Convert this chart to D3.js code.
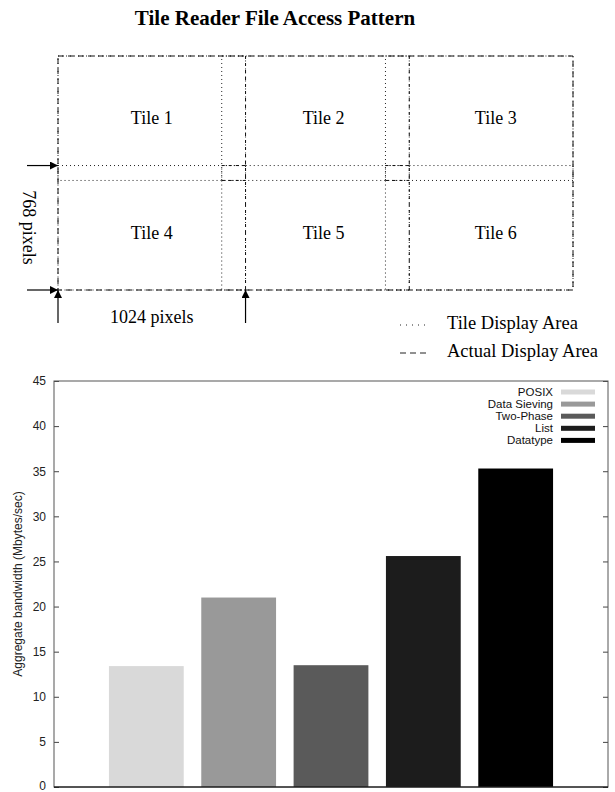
<!DOCTYPE html>
<html>
<head>
<meta charset="utf-8">
<script src="https://cdn.jsdelivr.net/npm/d3@7"></script>
<style>
body{margin:0;background:#fff}
</style>
</head>
<body>
<script>
// --- diagram data (display pixels) ---
const tileNames=[["Tile 1","Tile 2","Tile 3"],["Tile 4","Tile 5","Tile 6"]]
const tileCols=[0,894,1788]
const tileRows=[0,676]
const tileW=1024, tileH=768
const labelCols=[512,1450,2390]
const labelRows=[384,1090]
const legendTop=["Tile Display Area","Actual Display Area"]

// --- bar chart data ---
const methods=["POSIX","Data Sieving","Two-Phase","List","Datatype"]
const bandwidth=[13.4,21.0,13.5,25.6,35.3]
const shades=["#d9d9d9","#999999","#5a5a5a","#1c1c1c","#000000"]
const yTicks=[0,5,10,15,20,25,30,35,40,45]

const svg=d3.select("body")
            .append("svg")
            .attr("width",615)
            .attr("height",792)
            .style("background-color","white")

const serif="Liberation Serif, Times New Roman, serif"
const sans="Liberation Sans, Arial, sans-serif"

svg.append("text")
   .attr("x",275)
   .attr("y",25)
   .attr("text-anchor","middle")
   .attr("font-family",serif)
   .attr("font-weight","bold")
   .attr("font-size","21px")
   .text("Tile Reader File Access Pattern")

// top diagram
const totalW=tileCols[2]+tileW, totalH=tileRows[1]+tileH
const dx=d3.scaleLinear().domain([0,totalW]).range([58,573])
const dy=d3.scaleLinear().domain([0,totalH]).range([56,290])
const diag=svg.append("g")

const dotted="1,3", dashed="6,4"

// dotted tile areas
tileRows.forEach(r=>tileCols.forEach(c=>{
  diag.append("rect")
      .attr("x",dx(c)).attr("y",dy(r))
      .attr("width",dx(c+tileW)-dx(c)).attr("height",dy(r+tileH)-dy(r))
      .attr("fill","none").attr("stroke","#222").attr("stroke-width",1)
      .attr("stroke-dasharray",dotted)
}))

// dashed actual display area: outer frame and non-overlapping edges
diag.append("rect")
    .attr("x",dx(0)).attr("y",dy(0))
    .attr("width",dx(totalW)-dx(0)).attr("height",dy(totalH)-dy(0))
    .attr("fill","none").attr("stroke","#111").attr("stroke-dasharray",dashed)

const seg=(x1,y1,x2,y2)=>diag.append("line")
    .attr("x1",dx(x1)).attr("y1",dy(y1)).attr("x2",dx(x2)).attr("y2",dy(y2))
    .attr("stroke","#111").attr("stroke-dasharray","3,4")

// edges between tiles
seg(tileW,0,tileW,totalH)
seg(tileCols[1]+tileW,0,tileCols[1]+tileW,totalH)
seg(tileCols[1],tileRows[1],tileW,tileRows[1])
seg(tileCols[1],tileH,tileW,tileH)
seg(tileCols[2],tileRows[1],tileCols[1]+tileW,tileRows[1])
seg(tileCols[2],tileH,tileCols[1]+tileW,tileH)

tileNames.forEach((row,i)=>row.forEach((name,j)=>{
  diag.append("text")
      .attr("x",dx(labelCols[j])).attr("y",dy(labelRows[i])+6)
      .attr("text-anchor","middle")
      .attr("font-family",serif).attr("font-size","18px")
      .text(name)
}))

// arrows
svg.append("defs").append("marker")
   .attr("id","head").attr("viewBox","0 0 10 10")
   .attr("refX",10).attr("refY",5)
   .attr("markerWidth",14).attr("markerHeight",8)
   .attr("markerUnits","userSpaceOnUse")
   .attr("orient","auto")
   .append("path").attr("d","M0,0L10,5L0,10Z").attr("fill","black")

const arrow=(x1,y1,x2,y2)=>diag.append("line")
    .attr("x1",x1).attr("y1",y1).attr("x2",x2).attr("y2",y2)
    .attr("stroke","black").attr("stroke-width",1.2)
    .attr("marker-end","url(#head)")

arrow(27,dy(tileRows[1]),dx(0),dy(tileRows[1]))
arrow(27,dy(totalH),dx(0),dy(totalH))
arrow(dx(0),323,dx(0),dy(totalH))
arrow(dx(tileW),323,dx(tileW),dy(totalH))

diag.append("text")
    .attr("transform","translate(23,"+(dy(tileH)+47)+") rotate(90)")
    .attr("text-anchor","middle")
    .attr("font-family",serif).attr("font-size","18px")
    .text("768 pixels")

diag.append("text")
    .attr("x",(dx(0)+dx(tileW))/2).attr("y",323)
    .attr("text-anchor","middle")
    .attr("font-family",serif).attr("font-size","18px")
    .text("1024 pixels")

legendTop.forEach((t,i)=>{
  const y=325+i*28
  diag.append("line")
      .attr("x1",400).attr("x2",430).attr("y1",y).attr("y2",y)
      .attr("stroke","#222")
      .attr("stroke-dasharray",i==0?"1,5":"6,4")
  diag.append("text")
      .attr("x",447).attr("y",y+4)
      .attr("font-family",serif).attr("font-size","18.5px")
      .text(t)
})

// bar chart
const pL=54,pR=608,pT=381,pB=787
const xs=d3.scaleLinear().domain([0,methods.length+1]).range([pL,pR])
const ys=d3.scaleLinear().domain([0,45]).range([pB,pT])
const chart=svg.append("g")

chart.selectAll(".bar")
     .data(methods)
     .enter()
     .append("rect")
     .attr("x",(d,i)=>xs(i+1-0.405))
     .attr("width",xs(0.81)-xs(0))
     .attr("y",(d,i)=>ys(bandwidth[i]))
     .attr("height",(d,i)=>ys(0)-ys(bandwidth[i]))
     .attr("fill",(d,i)=>shades[i])

const yl=chart.append("g")
  .attr("transform","translate("+pL+",0)")
  .call(d3.axisLeft(ys).tickValues(yTicks).tickSize(-5).tickPadding(8))
const yr=chart.append("g")
  .attr("transform","translate("+pR+",0)")
  .call(d3.axisRight(ys).tickValues(yTicks).tickSize(-5).tickFormat(""))
;[yl,yr].forEach(g=>{
  g.select(".domain").remove()
  g.selectAll("line").attr("stroke","#444")
  g.selectAll("text").attr("font-family",sans).attr("font-size","12px").attr("fill","#222")
})
// keep the 0 label inside the picture
yl.selectAll("text").filter(d=>d==0).attr("dy","0.2em")

chart.append("rect")
     .attr("x",pL).attr("y",pT)
     .attr("width",pR-pL).attr("height",pB-pT)
     .attr("fill","none").attr("stroke","#555").attr("stroke-width",1)
chart.append("line")
     .attr("x1",pL).attr("x2",pR).attr("y1",pB).attr("y2",pB)
     .attr("stroke","black")

chart.append("text")
     .attr("transform","translate(22,"+((pT+pB)/2)+") rotate(-90)")
     .attr("text-anchor","middle")
     .attr("font-family",sans).attr("font-size","12px").attr("fill","#222")
     .text("Aggregate bandwidth (Mbytes/sec)")

methods.forEach((m,i)=>{
  const y=392+i*12.1
  chart.append("text")
       .attr("x",553).attr("y",y+4)
       .attr("text-anchor","end")
       .attr("font-family",sans).attr("font-size","11.5px").attr("fill","#111")
       .text(m)
  chart.append("rect")
       .attr("x",561).attr("y",y-2.5)
       .attr("width",34).attr("height",5)
       .attr("fill",shades[i])
})
</script>
</body>
</html>
